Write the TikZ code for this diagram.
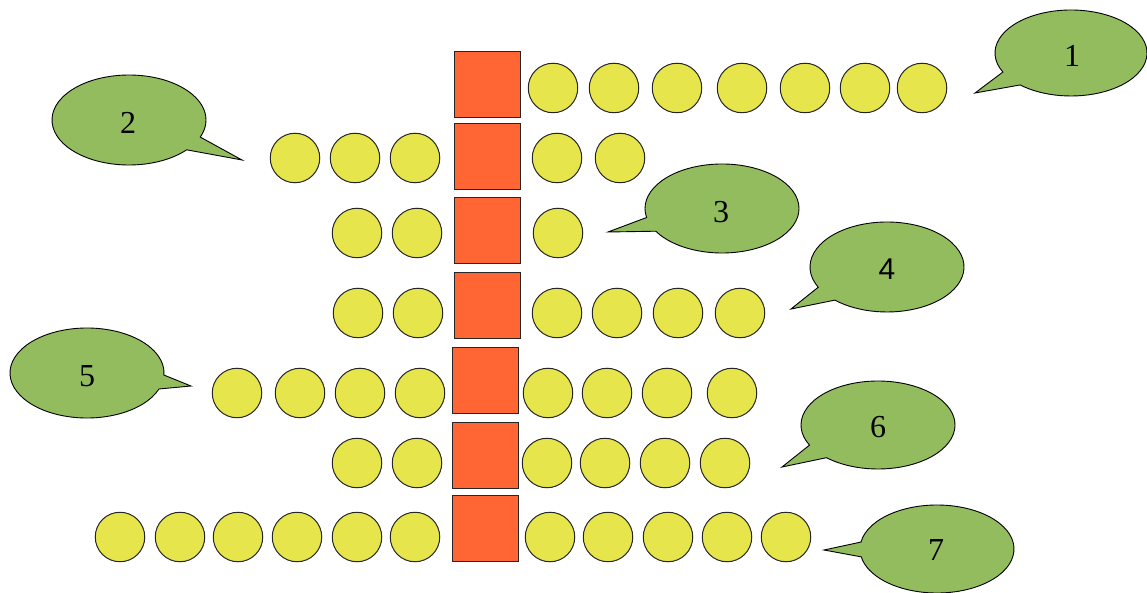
\documentclass[tikz,border=0pt]{standalone}
\usepackage{fontspec}
\setmainfont{Liberation Serif}
\newfontfamily\digitsans{Liberation Sans}
\definecolor{sqorange}{RGB}{255,102,51}
\definecolor{ballyellow}{RGB}{230,230,76}
\definecolor{callgreen}{RGB}{147,188,94}
\begin{document}
\begin{tikzpicture}[x=1pt,y=-1pt,
  ball/.style={circle,draw=black!85,line width=1pt,fill=ballyellow,minimum size=49.5pt,inner sep=0pt},
  sq/.style={rectangle,draw=black!85,line width=1pt,fill=sqorange,minimum width=66pt,minimum height=66pt,inner sep=0pt},
  callout/.style={draw=black,line width=0.9pt,fill=callgreen,line join=miter},
  calltext/.style={font=\fontsize{32}{36}\selectfont,inner sep=0pt}]
\useasboundingbox (0,0) rectangle (1147,593);
% squares
\node[sq] (s1) at (487.5,85) {};
\node[sq] (s2) at (487.5,157) {};
\node[sq] (s3) at (487.5,230.5) {};
\node[sq] (s4) at (487.5,305.5) {};
\node[sq] (s5) at (485.5,380.5) {};
\node[sq] (s6) at (485.5,455.5) {};
\node[sq] (s7) at (485.5,528.5) {};
% row 1
\foreach \x [count=\i] in {553,614,677,742,805,865,922} \node[ball] (r1r\i) at (\x,88) {};
% row 2
\foreach \x [count=\i] in {295,355,415} \node[ball] (r2l\i) at (\x,158) {};
\foreach \x [count=\i] in {557,620} \node[ball] (r2r\i) at (\x,158) {};
% row 3
\foreach \x [count=\i] in {357,417} \node[ball] (r3l\i) at (\x,233) {};
\foreach \x [count=\i] in {558} \node[ball] (r3r\i) at (\x,233) {};
% row 4
\foreach \x [count=\i] in {358,418} \node[ball] (r4l\i) at (\x,313) {};
\foreach \x [count=\i] in {557,617,678,740} \node[ball] (r4r\i) at (\x,313) {};
% row 5
\foreach \x [count=\i] in {237,300,360,420} \node[ball] (r5l\i) at (\x,393) {};
\foreach \x [count=\i] in {548,607,667,732} \node[ball] (r5r\i) at (\x,393) {};
% row 6
\foreach \x [count=\i] in {357,417} \node[ball] (r6l\i) at (\x,463) {};
\foreach \x [count=\i] in {547,605,665,725} \node[ball] (r6r\i) at (\x,463) {};
% row 7
\foreach \x [count=\i] in {120,180,238,297,357,415} \node[ball] (r7l\i) at (\x,537) {};
\foreach \x [count=\i] in {550,608,668,727,786} \node[ball] (r7r\i) at (\x,537) {};
% callouts
\draw[callout] (1071,53) ++(153.7:76 and 43) arc[start angle=153.7,end angle=492,x radius=76,y radius=43] -- (975,93) -- cycle;
\node[calltext] (t1) at (1072,56) {1};
\draw[callout] (129,120) ++(41.5:77 and 45) arc[start angle=41.5,end angle=382.3,x radius=77,y radius=45] -- (242,160) -- cycle;
\node[calltext] (t2) at (128,123) {2};
\draw[callout] (722,208.5) ++(168.3:77 and 44.5) arc[start angle=168.3,end angle=509.3,x radius=77,y radius=44.5] -- (608,232) -- cycle;
\node[calltext] (t3) at (721,212) {3};
\draw[callout] (887,267) ++(153.3:77 and 45) arc[start angle=153.3,end angle=492.6,x radius=77,y radius=45] -- (791,309) -- cycle;
\node[calltext,font=\fontsize{30}{34}\digitsans] (t4) at (887,269) {4};
\draw[callout] (87,373) ++(20.8:77 and 45) arc[start angle=20.8,end angle=362.6,x radius=77,y radius=45] -- (191,386) -- cycle;
\node[calltext] (t5) at (87,376) {5};
\draw[callout] (878,425) ++(152.8:77 and 44) arc[start angle=152.8,end angle=492,x radius=77,y radius=44] -- (782,467) -- cycle;
\node[calltext] (t6) at (878,427) {6};
\draw[callout] (937,549) ++(189.1:77 and 44) arc[start angle=189.1,end angle=529.7,x radius=77,y radius=44] -- (824,550) -- cycle;
\node[calltext] (t7) at (936,550) {7};
\end{tikzpicture}
\end{document}
